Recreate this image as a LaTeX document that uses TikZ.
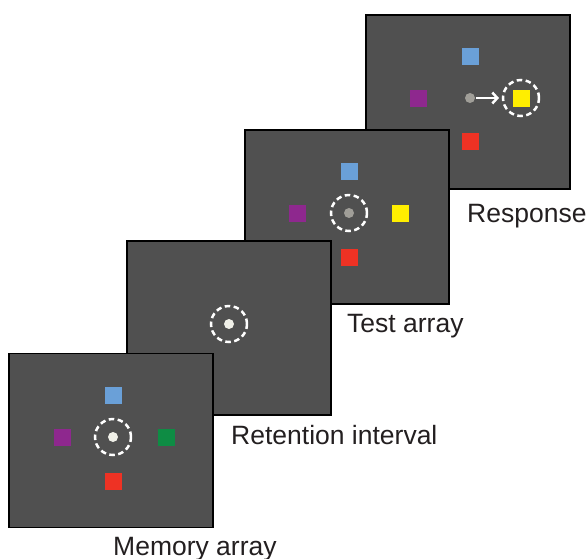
\documentclass[tikz,border=0pt]{standalone}
\usepackage{fontspec}
\setmainfont{Liberation Sans}
\usetikzlibrary{arrows.meta}
\definecolor{screen}{RGB}{80,80,80}
\definecolor{itemblue}{RGB}{106,160,216}
\definecolor{itempurple}{RGB}{142,40,142}
\definecolor{itemgreen}{RGB}{14,140,68}
\definecolor{itemred}{RGB}{238,50,36}
\definecolor{itemyellow}{RGB}{255,238,0}
\definecolor{fixwhite}{RGB}{240,240,232}
\definecolor{fixgrey}{RGB}{160,158,152}
\definecolor{labeltext}{RGB}{35,31,32}
\tikzset{
  panel/.style={draw=black, fill=screen, line width=2pt, minimum width=204pt,
    minimum height=174pt, inner sep=0pt},
  item/.style={fill=#1, minimum size=17pt, inner sep=0pt},
  fixdot/.style={circle, fill=#1, minimum size=10pt, inner sep=0pt},
  cue/.style={circle, draw=white, line width=2.5pt, dash pattern=on 5.5pt off 3.5pt,
    minimum size=36pt, inner sep=0pt},
  caption/.style={text=labeltext, inner sep=0pt, anchor=base west,
    font=\fontsize{26.5}{30}\selectfont},
}
\begin{document}
\begin{tikzpicture}[x=1pt, y=-1pt]
\useasboundingbox (0,0) rectangle (587,558);

% Response screen (furthest back)
\node[panel] (resp) at (467.5,101.5) {};
\node[item=itemblue]   (respB) at (470,56) {};
\node[item=itempurple] (respP) at (418,98) {};
\node[item=itemred]    (respR) at (470,141) {};
\node[item=itemyellow] (respY) at (521,98) {};
\node[cue] (respC) at (521,98) {};
\node[fixdot=fixgrey] (respF) at (470,98) {};
\coordinate (respTail) at (476,98);
\coordinate (respTip) at (499,98);
\draw[white, line width=2.5pt, -{Straight Barb[length=5pt,width=11pt,line width=2.5pt]}]
  (respTail) -- (respTip);
\node[caption] (respL) at (467,222.5) {Response};

% Test screen
\node[panel] (test) at (346.5,216.5) {};
\node[item=itemblue]   (testB) at (349,171) {};
\node[item=itempurple] (testP) at (297,213) {};
\node[item=itemred]    (testR) at (349,257) {};
\node[item=itemyellow] (testY) at (400,213) {};
\node[cue] (testC) at (349,213) {};
\node[fixdot=fixgrey] (testF) at (349,213) {};
\node[caption] (testL) at (347,332) {Test array};

% Retention interval screen
\node[panel] (ret) at (229,328) {};
\node[cue] (retC) at (229,324) {};
\node[fixdot=fixwhite] (retF) at (229,324) {};
\node[caption] (retL) at (231,444) {Retention interval};

% Memory array screen (front)
\node[panel, line width=1.3pt] (mem) at (111,440.5) {};
\node[item=itemblue]   (memB) at (113,395) {};
\node[item=itempurple] (memP) at (62,437) {};
\node[item=itemred]    (memR) at (113,481) {};
\node[item=itemgreen]  (memG) at (166,437) {};
\node[cue] (memC) at (113,437) {};
\node[fixdot=fixwhite] (memF) at (113,437) {};
\node[caption] (memL) at (113,555.5) {Memory array};
\end{tikzpicture}
\end{document}
